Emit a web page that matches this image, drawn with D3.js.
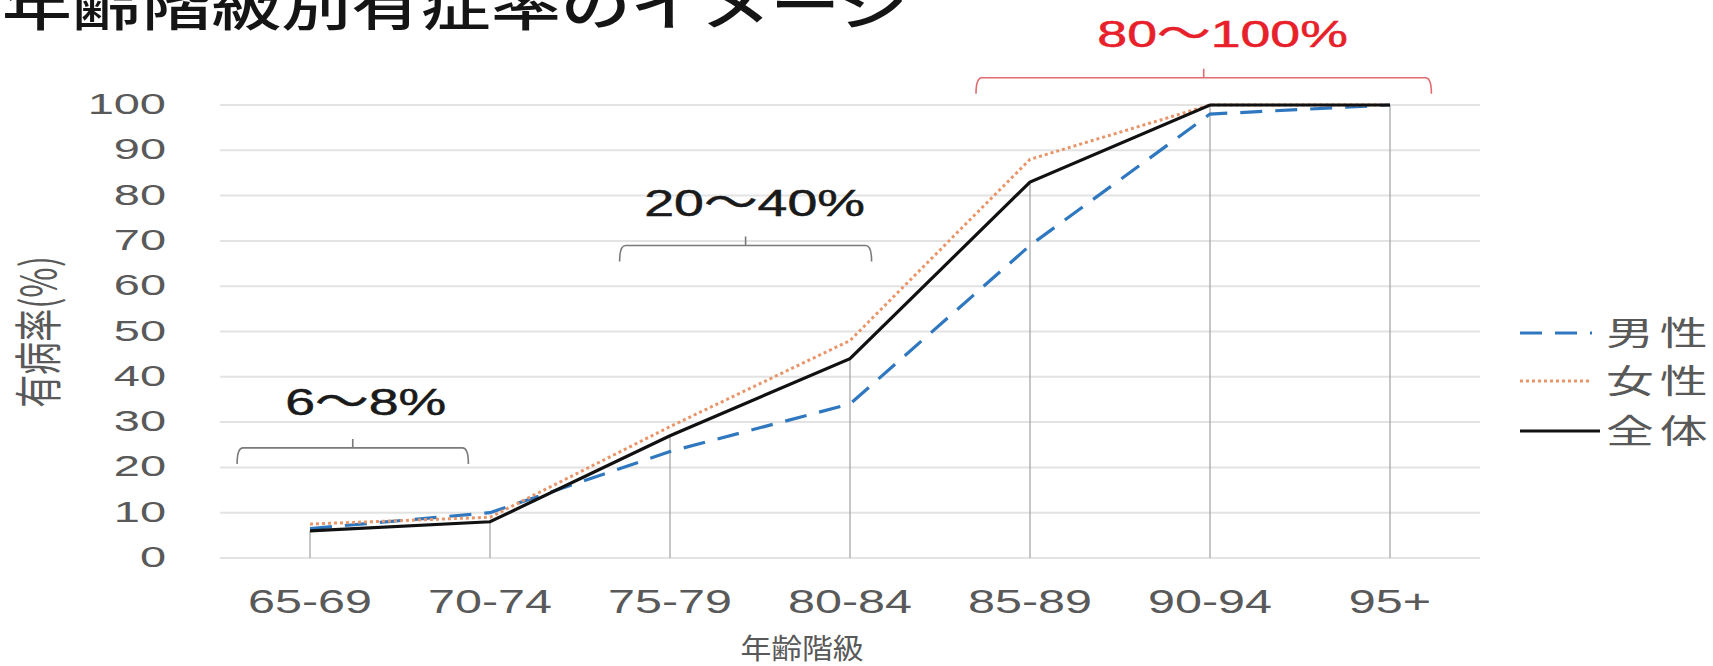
<!DOCTYPE html>
<html><head><meta charset="utf-8">
<script src="https://cdn.jsdelivr.net/npm/d3@7"></script>
<style>html,body{margin:0;padding:0;background:#fff;overflow:hidden}</style>
</head><body><svg id="c" width="1713" height="666"></svg>
<script>
// ---- data ----
const categories = ["65-69","70-74","75-79","80-84","85-89","90-94","95+"];
const maleValues   = [6.5, 10, 23.5, 34, 69, 98, 100];
const femaleValues = [7.5, 9, 29, 48, 88, 100, 100];
const totalValues  = [6, 8, 27, 44, 83, 100, 100];
const yTicks = [0,10,20,30,40,50,60,70,80,90,100];
const seriesNames = ["男性","女性","全体"];
const rangeLabels = ["6〜8%","20〜40%","80〜100%"];
const titleText = "年齢階級別有症率のイメージ";
const xTitle = "年齢階級";
const yTitle = "有病率(%)";

// ---- layout ----
const SX = 1.45; // horizontal stretch of the original picture
const svg = d3.select("#c");
const plot = {left:220, right:1480, top:105, bottom:558};
const x = d3.scaleBand().domain(categories).range([plot.left, plot.right]);
const xc = c => x(c) + x.bandwidth()/2;
const xi = d3.scaleLinear().domain([0,1]).range([xc(categories[0]), xc(categories[1])]);
const y = d3.scaleLinear().domain([0,100]).range([plot.bottom, plot.top]);
const numFont = "'Liberation Sans','Noto Sans CJK JP',sans-serif";
const cjkFont = "'Noto Sans CJK JP',sans-serif";

function addText(g, px, py, str, o) {
  const sx = o.sx || SX;
  let tr = `translate(${px},${py}) scale(${sx},1)` + (o.rotate ? ` rotate(${o.rotate})` : "");
  return g.append("text").attr("transform", tr)
    .attr("text-anchor", o.anchor || "start")
    .attr("font-family", o.family || numFont)
    .attr("font-size", o.size)
    .attr("font-weight", o.weight || "normal")
    .attr("letter-spacing", o.ls || 0)
    .attr("fill", o.fill || "#595959")
    .text(str);
}

// gridlines
svg.append("g").selectAll("line").data(yTicks).join("line")
  .attr("x1", plot.left).attr("x2", plot.right)
  .attr("y1", d => y(d)).attr("y2", d => y(d))
  .attr("stroke", "#e3e3e3").attr("stroke-width", 2);

// drop lines
svg.append("g").selectAll("line").data(categories).join("line")
  .attr("x1", d => xc(d)).attr("x2", d => xc(d))
  .attr("y1", (d,i) => y(totalValues[i])).attr("y2", y(0))
  .attr("stroke", "#a8a8a8").attr("stroke-width", 1.3);

// y tick labels
const gy = svg.append("g");
yTicks.forEach(t => addText(gy, 166, y(t) + 9, String(t), {size:29, anchor:"end", sx:1.62}));

// x tick labels
const gx = svg.append("g");
categories.forEach(c => addText(gx, xc(c), 613, c, {size:33, anchor:"middle", sx:1.47}));

// axis titles
addText(svg, 802, 659, xTitle, {size:28, anchor:"middle", family:cjkFont, sx:1.1});
addText(svg, 56, 332, yTitle, {size:33, anchor:"middle", family:cjkFont, rotate:-90});

// lines
const line = d3.line().x((d,i) => xc(categories[i])).y(d => y(d));
svg.append("path").datum(maleValues).attr("d", line).attr("fill","none")
  .attr("stroke","#2f78c0").attr("stroke-width",3.2).attr("stroke-dasharray","22,13");
svg.append("path").datum(femaleValues).attr("d", line).attr("fill","none")
  .attr("stroke","#e9956a").attr("stroke-width",3).attr("stroke-dasharray","3,3");
svg.append("path").datum(totalValues).attr("d", line).attr("fill","none")
  .attr("stroke","#111").attr("stroke-width",3.2);

// legend
const legRows = [333, 381, 431];
const lg = svg.append("g");
const legStyles = [
  {stroke:"#2f78c0", dash:"22,13", w:3.2, x2:1592},
  {stroke:"#e9956a", dash:"3,3", w:3, x2:1590},
  {stroke:"#111", dash:null, w:3.2, x2:1600}
];
seriesNames.forEach((n,i) => {
  lg.append("line").attr("x1",1520).attr("x2",legStyles[i].x2)
    .attr("y1",legRows[i]).attr("y2",legRows[i])
    .attr("stroke",legStyles[i].stroke).attr("stroke-width",legStyles[i].w)
    .attr("stroke-dasharray",legStyles[i].dash);
  addText(lg, 1606, legRows[i] + 12, n, {size:33, family:cjkFont, ls:4});
});

// range brackets (positions in category-index / value units)
const brackets = [
  {from:-0.405, to:0.88, level:24.3, tx:0.31, ty:31.6, color:"#7a7a7a", tcolor:"#1a1a1a"},
  {from:1.72, to:3.12, level:69, tx:2.47, ty:75.5, color:"#7a7a7a", tcolor:"#1a1a1a"},
  {from:3.7, to:6.23, level:106, tx:5.07, ty:112.8, color:"#e06a70", tcolor:"#e8202a"}
];
brackets.forEach((b,i) => {
  const x0 = xi(b.from), x1 = xi(b.to), yl = y(b.level), xm = (x0+x1)/2;
  const p = d3.path();
  p.moveTo(x0, yl + 16);
  p.quadraticCurveTo(x0, yl, x0 + 6, yl);
  p.lineTo(x1 - 6, yl);
  p.quadraticCurveTo(x1, yl, x1, yl + 16);
  p.moveTo(xm, yl); p.lineTo(xm, yl - 9);
  svg.append("path").attr("d", p.toString()).attr("fill","none")
    .attr("stroke", b.color).attr("stroke-width", 1.6);
  addText(svg, xi(b.tx), y(b.ty), rangeLabels[i], {size:37, anchor:"middle", fill:b.tcolor,
    weight:"normal"}).attr("stroke", b.tcolor).attr("stroke-width", 0.5);
});

// title
addText(svg, 2, 25, titleText, {size:55, family:cjkFont, fill:"#151515", weight:500, sx:1.27});
</script></body></html>
